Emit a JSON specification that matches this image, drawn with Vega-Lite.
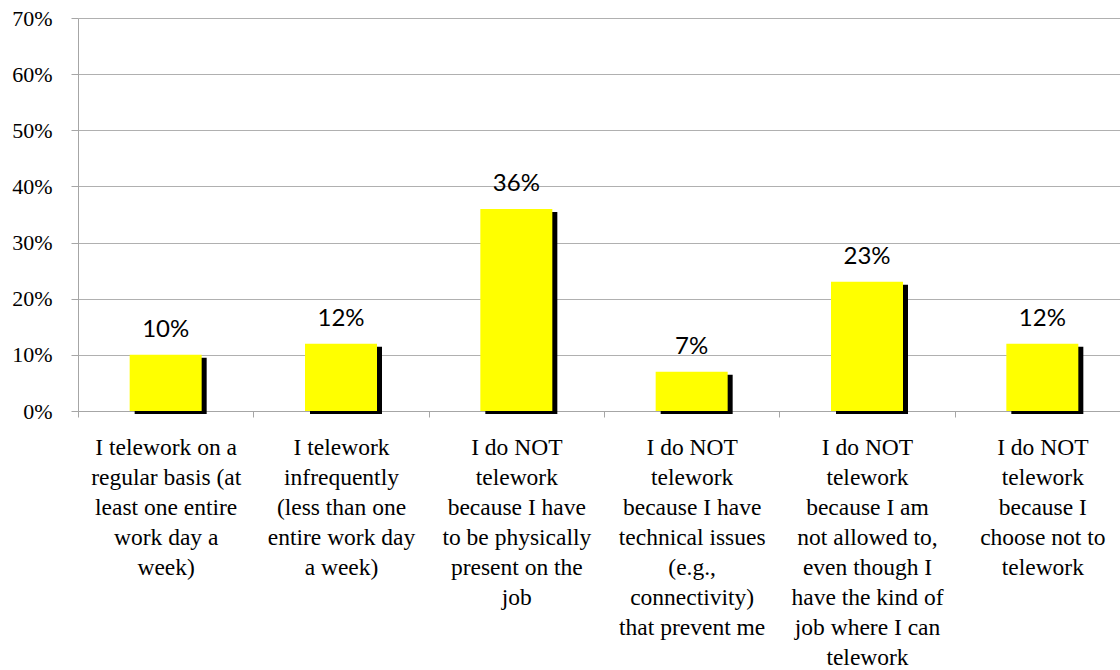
{
  "$schema": "https://vega.github.io/schema/vega-lite/v6.json",
  "autosize": {"type": "none"},
  "padding": {"left": 78, "top": 18, "right": 0, "bottom": 259},
  "width": 1052,
  "height": 393,
  "background": "white",
  "data": {
    "values": [
      {"order": 1, "category": "I telework on a|regular basis (at|least one entire|work day a|week)", "share": 0.10, "label": "10%"},
      {"order": 2, "category": "I telework|infrequently|(less than one|entire work day|a week)", "share": 0.12, "label": "12%"},
      {"order": 3, "category": "I do NOT|telework|because I have|to be physically|present on the|job", "share": 0.36, "label": "36%"},
      {"order": 4, "category": "I do NOT|telework|because I have|technical issues|(e.g.,|connectivity)|that prevent me", "share": 0.07, "label": "7%"},
      {"order": 5, "category": "I do NOT|telework|because I am|not allowed to,|even though I|have the kind of|job where I can|telework", "share": 0.23, "label": "23%"},
      {"order": 6, "category": "I do NOT|telework|because I|choose not to|telework", "share": 0.12, "label": "12%"}
    ]
  },
  "config": {
    "view": {"stroke": null},
    "font": "Liberation Serif"
  },
  "encoding": {
    "x": {
      "field": "category",
      "type": "nominal",
      "sort": {"field": "order"},
      "scale": {"paddingInner": 0, "paddingOuter": 0},
      "axis": {
        "title": null,
        "labelAngle": 0,
        "labelExpr": "datum.value ? split(datum.value, '|') : ''",
        "labelFont": "Times New Roman, Liberation Serif, serif",
        "labelColor": "#000000",
        "labelFontSize": 23.5,
        "labelLineHeight": 30,
        "labelBaseline": "top",
        "labelPadding": 18,
        "labelLimit": 0,
        "labelOverlap": false,
        "tickBand": "extent",
        "tickSize": 6,
        "tickColor": "#a6a6a6",
        "domainColor": "#a6a6a6",
        "grid": false
      }
    }
  },
  "layer": [
    {
      "mark": {"type": "bar", "color": "#000000", "size": 72, "xOffset": 5, "yOffset": 3, "y2Offset": 3},
      "encoding": {
        "y": {
          "field": "share",
          "type": "quantitative",
          "scale": {"domain": [0, 0.7], "nice": false},
          "axis": {
            "title": null,
            "values": [0, 0.1, 0.2, 0.3, 0.4, 0.5, 0.6, 0.7],
            "format": ".0%",
            "labelFont": "Times New Roman, Liberation Serif, serif",
            "labelColor": "#000000",
            "labelFontSize": 22,
            "labelPadding": 19,
            "tickSize": 7,
            "tickColor": "#a6a6a6",
            "domainColor": "#a6a6a6",
            "gridColor": "#b0b0b0",
            "grid": true
          }
        }
      }
    },
    {
      "mark": {"type": "bar", "color": "#ffff00", "size": 72},
      "encoding": {
        "y": {"field": "share", "type": "quantitative"}
      }
    },
    {
      "mark": {"type": "text", "font": "Lato", "fontSize": 24, "color": "#000000", "baseline": "alphabetic", "dy": -18},
      "encoding": {
        "y": {"field": "share", "type": "quantitative"},
        "text": {"field": "label"}
      }
    }
  ]
}
